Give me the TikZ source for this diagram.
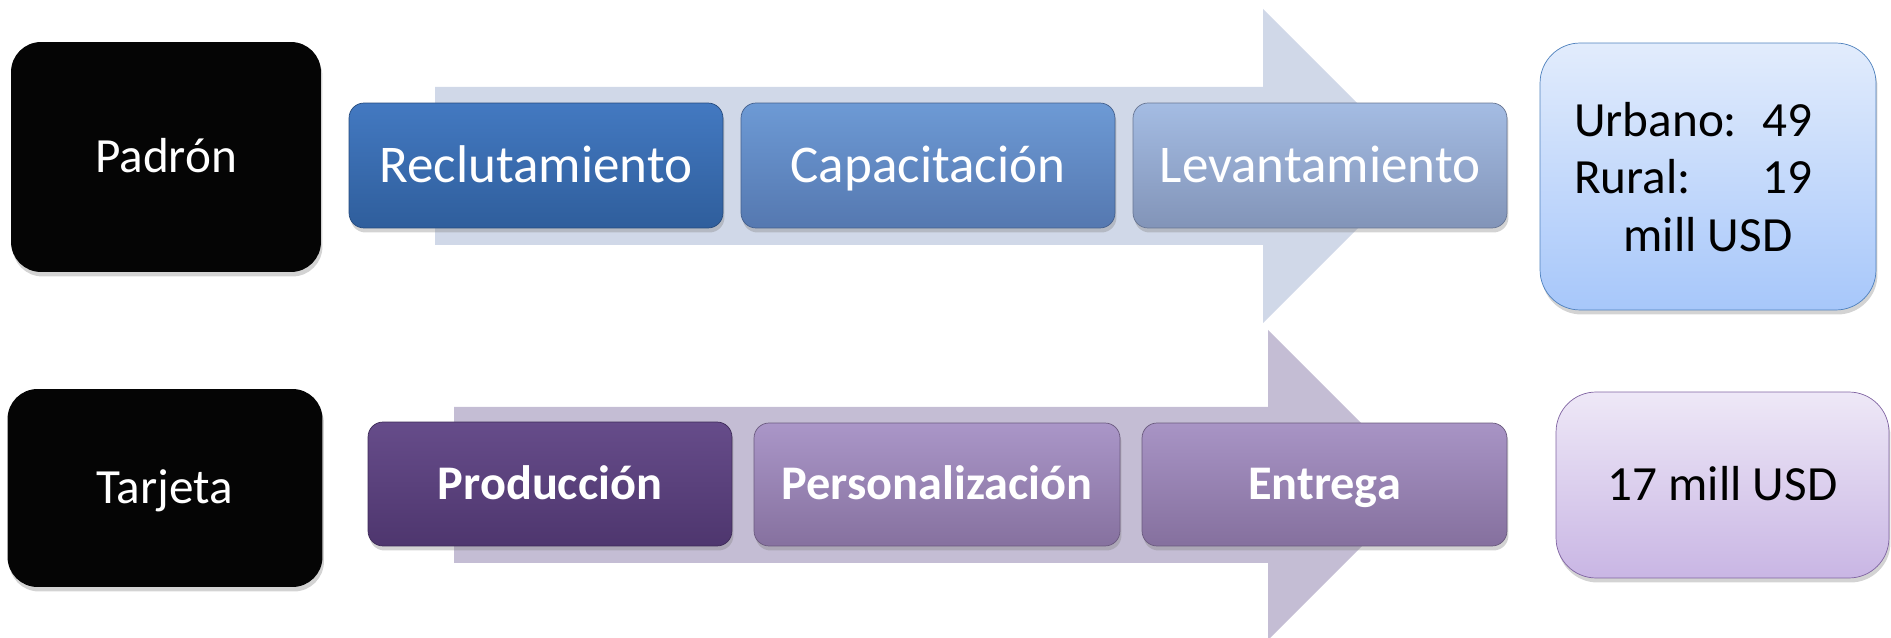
\documentclass[tikz,border=0pt]{standalone}
\usepackage{fontspec}
\setmainfont{Carlito}
\usetikzlibrary{shadows}
\definecolor{flechaA}{RGB}{208,216,232}
\definecolor{flechaB}{RGB}{196,189,212}
\definecolor{bordeA}{RGB}{79,129,189}
\definecolor{bordeB}{RGB}{128,100,162}
\definecolor{reclutA}{RGB}{67,121,193}
\definecolor{reclutB}{RGB}{47,94,156}
\definecolor{capacA}{RGB}{109,154,213}
\definecolor{capacB}{RGB}{85,120,176}
\definecolor{levantA}{RGB}{164,188,227}
\definecolor{levantB}{RGB}{130,148,184}
\definecolor{producA}{RGB}{102,76,138}
\definecolor{producB}{RGB}{78,54,110}
\definecolor{personA}{RGB}{170,150,200}
\definecolor{personB}{RGB}{134,113,159}
\definecolor{entregaA}{RGB}{168,148,197}
\definecolor{entregaB}{RGB}{133,112,158}
\definecolor{azulA}{RGB}{226,236,252}
\definecolor{azulB}{RGB}{167,199,250}
\definecolor{lilaA}{RGB}{238,232,247}
\definecolor{lilaB}{RGB}{201,182,228}
\tikzset{
	sombra/.style={drop shadow={opacity=0.35,shadow xshift=0.03cm,shadow yshift=-0.09cm}},
	letra/.style={font=\fontsize{28}{32}\selectfont,text height=17.7pt,text depth=0pt},
	tema/.style={rounded corners=0.6cm,fill=black!98,text=white,minimum width=6.2cm,letra,sombra},
	paso/.style={rounded corners=0.3cm,top color=#1A,bottom color=#1B,draw=#1B!80!black,
		text=white,minimum height=2.5cm,sombra},
	grande/.style={font=\fontsize{30.2}{34}\selectfont,text height=19.1pt,text depth=0pt},
	negrita/.style={font=\fontsize{27.5}{32}\selectfont\bfseries,text height=17.4pt,text depth=0pt},
	monto/.style={rounded corners=0.8cm,font=\fontsize{28}{32.5}\selectfont,sombra}
}
\begin{document}
\begin{tikzpicture}[x=0.02cm,y=-0.02cm]
	\useasboundingbox (0,0) rectangle (1891,638);
	\fill[flechaA] (435,87) -- (1263,87) -- (1263,9) -- (1420,166) -- (1263,323) -- (1263,245) -- (435,245) -- cycle;
	\fill[flechaB] (454,407) -- (1268,407) -- (1268,330) -- (1423,485) -- (1268,640) -- (1268,563) -- (454,563) -- cycle;
	\node[tema,minimum height=4.6cm] (padron) at (166,157) {Padrón};
	\node[tema,minimum width=6.3cm,minimum height=3.96cm] (tarjeta) at (165,488) {Tarjeta};
	\node[paso=reclut,minimum width=7.48cm,grande] (reclut) at (536,165.5) {Reclutamiento};
	\node[paso=capac,minimum width=7.48cm,grande] (capac) at (928,165.5) {Capacitación};
	\node[paso=levant,minimum width=7.48cm,grande] (levant) at (1320,165.5) {Levantamiento};
	\node[paso=produc,minimum width=7.28cm,minimum height=2.48cm,negrita] (produc) at (550,484) {Producción};
	\node[paso=person,minimum width=7.32cm,minimum height=2.46cm,negrita] (person) at (937,484.5) {Personalización};
	\node[paso=entrega,minimum width=7.3cm,minimum height=2.46cm,negrita] (entrega) at (1324.5,484.5) {Entrega};
	\node[monto,draw=bordeA,top color=azulA,bottom color=azulB,minimum width=6.72cm,minimum height=5.34cm] (padronusd) at (1708,176.5)
		{\begin{tabular}{@{}l@{\hspace{0.5cm}}r@{}}\rule{0pt}{29.6pt}Urbano: & 49\\ Rural: & 19\\ \multicolumn{2}{c}{\hspace{0.6cm}mill USD}\end{tabular}\kern0.6cm};
	\node[monto,letra,draw=bordeB,top color=lilaA,bottom color=lilaB,minimum width=6.66cm,minimum height=3.72cm] (tarjetausd) at (1722.5,485) {17 mill USD};
\end{tikzpicture}
\end{document}
